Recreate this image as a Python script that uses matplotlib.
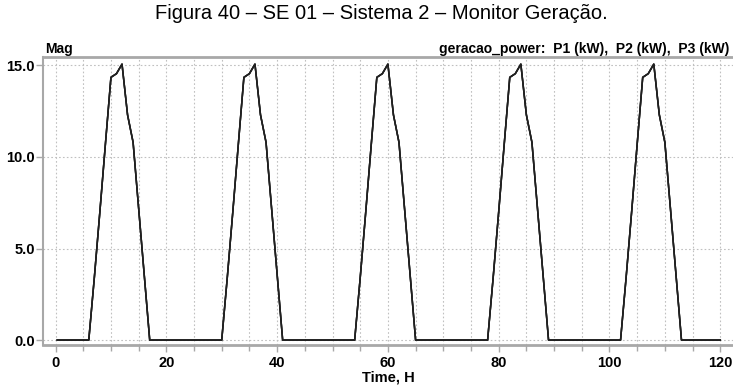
import matplotlib.pyplot as plt
from matplotlib.ticker import MultipleLocator

# Perfil diário de geração (kW), hora 0..23 - igual nos 5 dias
horas_dia = list(range(24))
perfil_dia = [0, 0, 0, 0, 0, 0, 0, 3.4, 7.0, 10.7, 14.35, 14.55, 15.07,
              12.3, 10.8, 7.2, 3.6, 0, 0, 0, 0, 0, 0, 0]
dias = [0, 1, 2, 3, 4]

tempo = [d * 24 + h for d in dias for h in horas_dia] + [120]
tempo[0] = 0.3
p1 = perfil_dia * len(dias) + [0]
p2 = list(p1)
p3 = list(p1)

titulo = "Figura 40 – SE 01 – Sistema 2 – Monitor Geração."
legenda = "geracao_power:  P1 (kW),  P2 (kW),  P3 (kW)"

fonte = ["Liberation Sans Narrow", "Liberation Sans", "DejaVu Sans"]
cinza = "#a8a8a8"

fig = plt.figure(figsize=(7.33, 3.87), dpi=100)
ax = fig.add_axes([0.0587, 0.1085, 0.9413, 0.7442])

for serie in (p1, p2, p3):
    ax.plot(tempo, serie, color="#202020", linewidth=1.1)

ax.set_xlim(-2.26, 122.3)
ax.set_ylim(-0.27, 15.46)
ax.xaxis.set_major_locator(MultipleLocator(20))
ax.xaxis.set_minor_locator(MultipleLocator(5))
ax.yaxis.set_major_locator(MultipleLocator(5))
ax.yaxis.set_major_formatter(plt.FormatStrFormatter("%.1f"))

ax.grid(which="both", axis="x", color="#c0c0c0", linestyle=(0, (1.5, 2)), linewidth=0.8)
ax.grid(which="major", axis="y", color="#c0c0c0", linestyle=(0, (1.5, 2)), linewidth=0.8)

for lado in ("top", "bottom"):
    ax.spines[lado].set_color(cinza)
    ax.spines[lado].set_linewidth(2)
ax.spines["left"].set_color(cinza)
ax.spines["left"].set_linewidth(1.5)
ax.spines["right"].set_visible(False)

ax.tick_params(which="both", direction="out", color=cinza, width=1)
ax.tick_params(which="major", length=5)
ax.tick_params(which="minor", length=4)
for lbl in ax.get_xticklabels() + ax.get_yticklabels():
    lbl.set_family(fonte)
    lbl.set_fontweight("bold")
    lbl.set_fontsize(10.5)
ax.tick_params(axis="x", pad=3)
ax.tick_params(axis="y", pad=1)

ax.set_xlabel("Time, H", family=fonte, fontweight="bold", fontsize=10.5, labelpad=1)
ax.xaxis.set_label_coords(0.5, -0.09)

fig.text(0.52, 0.99, titulo, ha="center", va="top", family=["Liberation Sans", "DejaVu Sans"], fontsize=14.5)
fig.text(0.061, 0.855, "Mag", ha="left", va="bottom", family=fonte, fontweight="bold", fontsize=10)
fig.text(0.995, 0.855, legenda, ha="right", va="bottom", family=fonte, fontweight="bold", fontsize=10)

fig.savefig("out.png", dpi=100)
